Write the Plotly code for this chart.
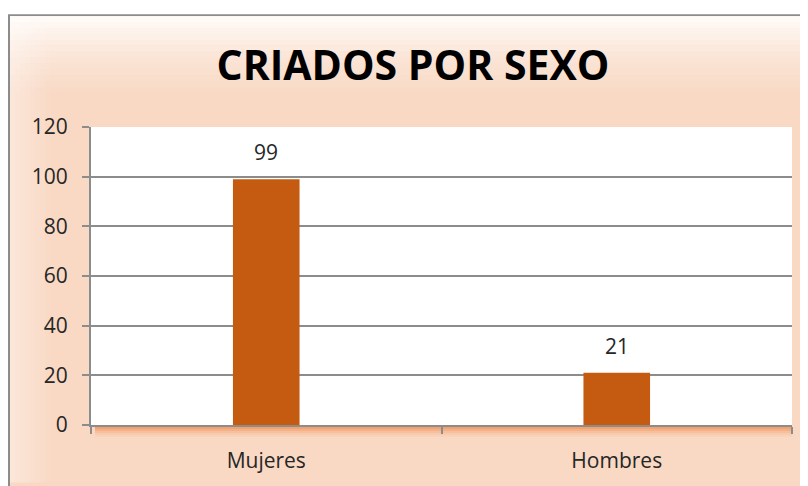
import plotly.graph_objects as go

categories = ["Mujeres", "Hombres"]
values = [99, 21]
y_ticks = [0, 20, 40, 60, 80, 100, 120]

OFF = 8  # page body margin
W, H = 800, 478
L, T = 91 - OFF, 127 - OFF
R = W - (792 - OFF)
B = H - (428 - OFF)
PW = W - L - R
PH = H - T - B

def px(x):  # page x -> paper x
    return (x - OFF - L) / PW

def py(y):  # page y -> paper y
    return (H - B - (y - OFF)) / PH

fig = go.Figure()
fig.add_trace(go.Bar(
    x=categories, y=values,
    marker=dict(color="#C55A11", line=dict(width=0)),
    width=0.19,
))

annotations = [dict(x=c, y=v, xref="x", yref="y", text=str(v), showarrow=False,
                    yanchor="middle", yshift=27,
                    font=dict(family="Open Sans", size=21, color="#262626"))
               for c, v in zip(categories, values)]

shapes = []
shapes.append(dict(type="rect", xref="paper", yref="paper", layer="below",
                   x0=px(9), x1=px(830), y0=py(500), y1=py(14),
                   fillcolor="#F9D9C4", line=dict(color="#8C8C8C", width=2)))
n = 14
for i in range(n):
    y0 = 15 + i * 6
    shapes.append(dict(type="rect", xref="paper", yref="paper", layer="below",
                       x0=px(10), x1=px(830), y0=py(y0 + 6), y1=py(y0),
                       fillcolor="white", opacity=0.85 * (1 - i / n) ** 1.5,
                       line=dict(width=0)))
for i in range(8):
    x0 = 10 + i * 5
    shapes.append(dict(type="rect", xref="paper", yref="paper", layer="below",
                       x0=px(x0), x1=px(x0 + 5), y0=py(486), y1=py(15),
                       fillcolor="white", opacity=0.35 * (1 - i / 8),
                       line=dict(width=0)))
shapes.append(dict(type="rect", xref="paper", yref="paper", layer="below",
                   x0=0, x1=1, y0=0, y1=1, fillcolor="white", line=dict(width=0)))
for i, op in enumerate([0.7, 0.5, 0.32, 0.18, 0.08]):
    shapes.append(dict(type="rect", xref="paper", yref="paper", layer="below",
                       x0=px(95), x1=px(792), y0=py(430 + i * 2 + 2), y1=py(430 + i * 2),
                       fillcolor="#F08A4B", opacity=op, line=dict(width=0)))

fig.update_layout(
    width=W, height=H,
    margin=dict(l=L, r=R, t=T, b=B),
    paper_bgcolor="white", plot_bgcolor="rgba(0,0,0,0)",
    showlegend=False,
    shapes=shapes,
    annotations=annotations,
    title=dict(text="<b>CRIADOS POR SEXO</b>", x=(413 - OFF) / W, xanchor="center",
               y=1 - (66 - OFF) / H, yanchor="middle",
               font=dict(family="Open Sans", size=41, color="#000000")),
    bargap=0.81,
    xaxis=dict(
        type="category", showgrid=False, showline=True, linecolor="#8C8C8C", linewidth=2,
        ticks="outside", tickson="boundaries", ticklen=7, tickcolor="#8C8C8C", tickwidth=2,
        tickfont=dict(family="Open Sans", size=21, color="#262626"),
        ticklabelstandoff=16,
    ),
    yaxis=dict(
        range=[0, 120], tickvals=y_ticks, showgrid=True, gridcolor="#8C8C8C", gridwidth=2,
        showline=True, linecolor="#8C8C8C", linewidth=2, zeroline=False,
        ticks="outside", ticklen=7, tickcolor="#8C8C8C", tickwidth=2,
        tickfont=dict(family="Open Sans", size=21, color="#262626"),
        ticklabelstandoff=10,
    ),
)

fig.write_html("out.html")
